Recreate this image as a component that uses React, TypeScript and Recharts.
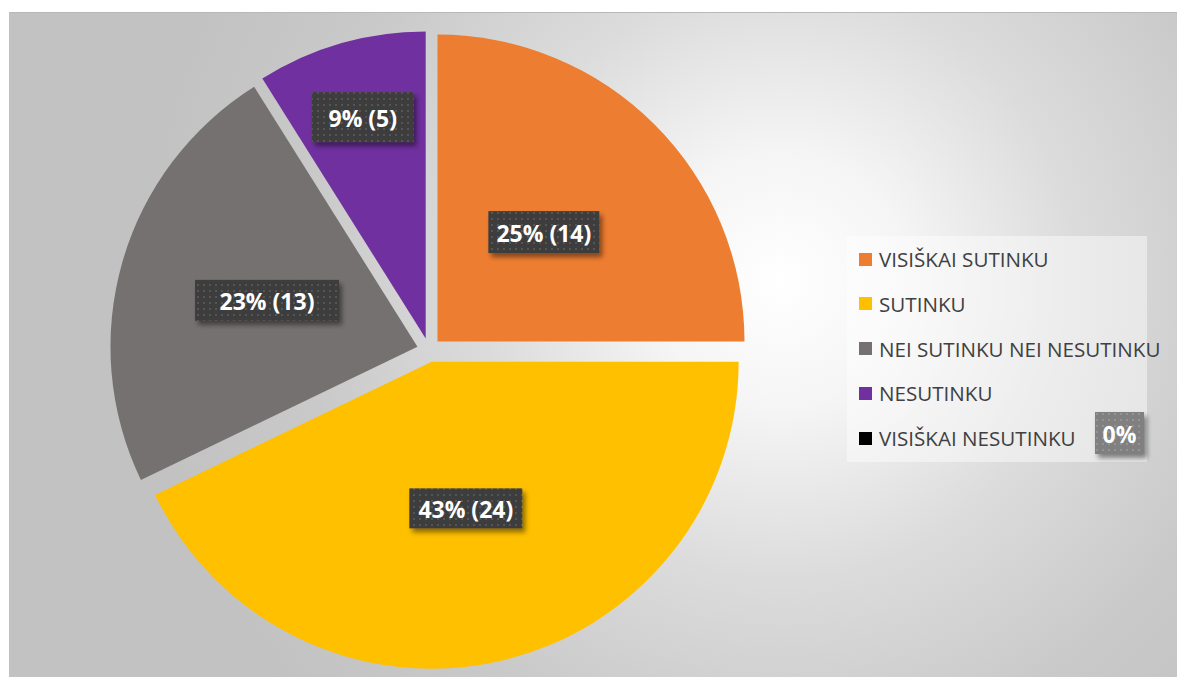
import React from 'react';
import { PieChart, Pie, Cell, Legend } from 'recharts';

const categories = [
  'VISIŠKAI SUTINKU',
  'SUTINKU',
  'NEI SUTINKU NEI NESUTINKU',
  'NESUTINKU',
  'VISIŠKAI NESUTINKU',
];
const counts = [14, 24, 13, 5, 0];
const colors = ['#ED7D31', '#FFC000', '#767171', '#7030A0', '#000000'];

const rows = categories.map((name, i) => ({ name, value: counts[i] }));
const total = counts.reduce((a, b) => a + b, 0);

const W = 1168;
const H = 665;
const CX = 419;
const CY = 337;
const R = 307;
const EXPLODE = 12;
const RAD = Math.PI / 180;
const FONT = '"Open Sans", sans-serif';

// label box sizes (w, h) and distance from centre as share of the radius
const boxW = [111, 113, 144, 102, 49];
const boxH = [42, 40, 41, 50, 42];
const labelRatio = [0.49, 0.5, 0.51, 0.74, 0];

const pctText = (v: number) => `${Math.round((v / total) * 100)}%`;

const LabelBox = ({ x, y, w, h, text, dark = true }: { x: number; y: number; w: number; h: number; text: string; dark?: boolean }) => (
  <g>
    <rect
      x={x - w / 2}
      y={y - h / 2}
      width={w}
      height={h}
      fill={dark ? 'url(#dotsDark)' : 'url(#dotsLight)'}
      filter="url(#lblShadow)"
    />
    <text
      x={x}
      y={y + 1}
      textAnchor="middle"
      dominantBaseline="central"
      fill="#ffffff"
      fontFamily={FONT}
      fontWeight={700}
      fontSize={23}
    >
      {text}
    </text>
  </g>
);

// mid angle (recharts degrees) of each slice, clockwise from 12 o'clock
const midAngles = counts.map((v, i) => {
  const before = counts.slice(0, i).reduce((a, b) => a + b, 0);
  return 90 - (360 * (before + v / 2)) / total;
});

const renderLegend = () => (
  <div
    style={{
      width: 300,
      height: 226,
      background: 'rgba(255,255,255,0.45)',
      position: 'relative',
      fontFamily: FONT,
    }}
  >
    {categories.map((name, i) => (
      <div
        key={name}
        style={{
          position: 'absolute',
          left: 12,
          top: 23 + i * 44.75 - 14,
          height: 28,
          display: 'flex',
          alignItems: 'center',
          whiteSpace: 'nowrap',
        }}
      >
        <span style={{ width: 13, height: 13, background: colors[i], display: 'inline-block', marginRight: 7 }} />
        <span style={{ fontSize: 20.6, color: '#404040' }}>{name}</span>
      </div>
    ))}
    {counts.map((v, i) =>
      v === 0 ? (
        <svg key={i} width={60} height={52} style={{ position: 'absolute', left: 248, top: 176, overflow: 'visible' }}>
          <LabelBox x={24.5} y={21} w={boxW[i]} h={boxH[i]} text={pctText(v)} dark={false} />
        </svg>
      ) : null
    )}
  </div>
);

export default function App() {
  return (
    <div
      style={{
        position: 'absolute',
        left: 9,
        top: 12,
        width: W,
        height: H,
        borderTop: '1px solid #b8b8b8',
        borderLeft: '1px solid #c0c0c0',
        boxSizing: 'border-box',
        background:
          'radial-gradient(circle 640px at 771px 268px, #ffffff 0%, #f5f5f5 20%, #dcdcdc 46%, #c9c9c9 75%, #c2c2c2 100%)',
      }}
    >
      <svg width={0} height={0} style={{ position: 'absolute' }}>
        <defs>
          <pattern id="dotsDark" width="6" height="6" patternUnits="userSpaceOnUse">
            <rect width="6" height="6" fill="#3d3d3d" />
            <rect x="1" y="1" width="2" height="2" fill="#545454" />
          </pattern>
          <pattern id="dotsLight" width="6" height="6" patternUnits="userSpaceOnUse">
            <rect width="6" height="6" fill="#808080" />
            <rect x="1" y="1" width="2" height="2" fill="#949494" />
          </pattern>
          <filter id="lblShadow" x="-20%" y="-20%" width="150%" height="160%">
            <feDropShadow dx="3" dy="4" stdDeviation="2.5" floodColor="#000" floodOpacity="0.45" />
          </filter>
        </defs>
      </svg>
      <PieChart width={W} height={H} margin={{ top: 0, right: 0, bottom: 0, left: 0 }}>
        {counts.map((v, i) => {
          if (v === 0) return null;
          const a = midAngles[i] * RAD;
          const cx = CX + EXPLODE * Math.cos(a);
          const cy = CY - EXPLODE * Math.sin(a);
          return (
            <Pie
              key={categories[i]}
              data={rows}
              dataKey="value"
              nameKey="name"
              cx={cx}
              cy={cy}
              outerRadius={R}
              startAngle={90}
              endAngle={-270}
              stroke="none"
              isAnimationActive={false}
              labelLine={false}
              legendType="none"
              label={(p: any) => {
                if (p.index !== i) return null;
                const r = p.outerRadius * labelRatio[i];
                const lx = p.cx + r * Math.cos(-p.midAngle * RAD);
                const ly = p.cy + r * Math.sin(-p.midAngle * RAD) - 3;
                return <LabelBox x={lx} y={ly} w={boxW[i]} h={boxH[i]} text={`${pctText(v)} (${v})`} />;
              }}
            >
              {rows.map((row, j) => (
                <Cell key={row.name} fill={j === i ? colors[j] : 'none'} stroke="none" />
              ))}
            </Pie>
          );
        })}
        <Legend
          layout="vertical"
          align="right"
          verticalAlign="middle"
          content={renderLegend}
          wrapperStyle={{ left: 837, top: 223, width: 300, height: 226, right: 'auto', bottom: 'auto' }}
        />
      </PieChart>
    </div>
  );
}
